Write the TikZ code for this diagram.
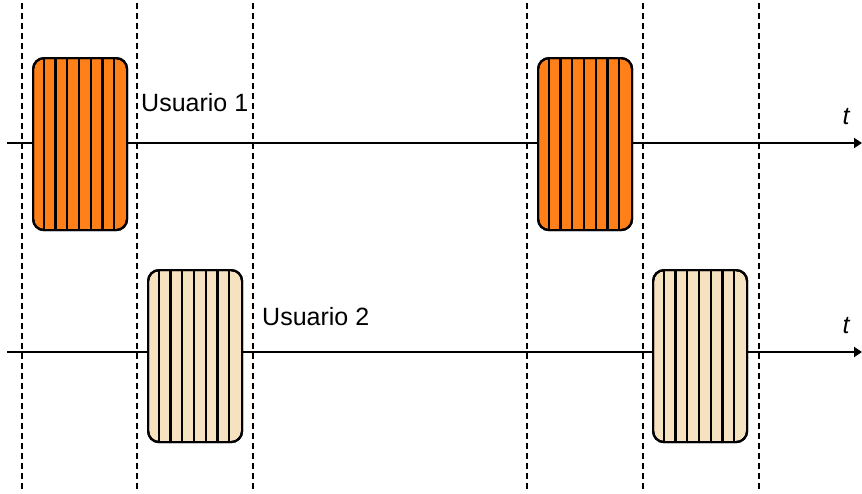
\documentclass[tikz,border=0pt]{standalone}
\usepackage{fontspec}
\setmainfont{Liberation Sans}
\usetikzlibrary{arrows.meta,calc}
\definecolor{naranja}{RGB}{255,128,24}
\definecolor{crema}{RGB}{246,225,193}
\newcommand{\bloque}[4]{% nombre, x, y, color
  \node[bloque,fill=#4] (#1) at (#2,#3) {};
  \foreach \i in {1,...,7}
    \draw[rayas] ($(#1.north west)+(\i*11.75,0)$) -- ($(#1.south west)+(\i*11.75,0)$);
  \node[bloque] at (#2,#3) {};
}
\begin{document}
\begin{tikzpicture}[x=1pt,y=-1pt,>={Triangle[length=8pt,width=10pt]}, line join=round, font=\fontsize{25}{30}\selectfont,
    bloque/.style={draw,line width=2.2pt,rounded corners=11pt,minimum width=94pt,minimum height=172pt,inner sep=0pt,anchor=north west},
    rayas/.style={line width=2.1pt},
    eje/.style={line width=2pt,->},
    corte/.style={dash pattern=on 6pt off 4pt,line width=2pt}]
    \useasboundingbox (0,0) rectangle (862,493);

    % separaciones
    \foreach \x in {22,137,253,527,643,759} \draw[corte] (\x,3)--(\x,491);

    % ejes de tiempo
    \coordinate (ini1) at (7,143); \coordinate (fin1) at (862,143);
    \coordinate (ini2) at (7,352); \coordinate (fin2) at (862,352);
    \draw[eje] (ini1)--(fin1);
    \draw[eje] (ini2)--(fin2);
    \node[anchor=base] (t1) at (846,124) {\itshape t};
    \node[anchor=base] (t2) at (846,333) {\itshape t};

    % usuarios
    \node[anchor=base west,inner sep=0pt] (u1) at (141,111) {Usuario 1};
    \node[anchor=base west,inner sep=0pt] (u2) at (262,325) {Usuario 2};

    \bloque{b1}{32}{57}{naranja}
    \bloque{b2}{537}{57}{naranja}
    \bloque{b3}{147}{269}{crema}
    \bloque{b4}{652}{269}{crema}
\end{tikzpicture}
\end{document}
